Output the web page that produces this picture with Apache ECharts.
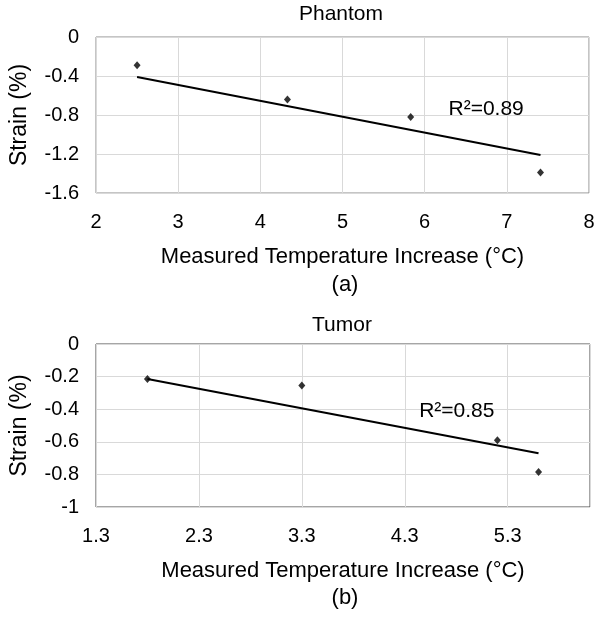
<!DOCTYPE html>
<html>
<head>
<meta charset="utf-8">
<script src="https://cdn.jsdelivr.net/npm/echarts@6/dist/echarts.min.js"></script>
<style>
html,body{margin:0;padding:0;background:#fff;}
#chart{width:601px;height:617px;}
</style>
</head>
<body>
<div id="chart"></div>
<script>
// Panel (a) Phantom
const phantomX = [2.5, 4.33, 5.83, 7.41];
const phantomY = [-0.29, -0.64, -0.82, -1.39];
const phantomFitX = [2.5, 7.41];
const phantomFitY = [-0.41, -1.21];
const phantomR2 = 'R²=0.89';
const phantomR2At = [6.29, -0.745];
const phantomXTicks = {min: 2, max: 8, interval: 1};
const phantomYTicks = {min: -1.6, max: 0, interval: 0.4};

// Panel (b) Tumor
const tumorX = [1.8, 3.3, 5.2, 5.6];
const tumorY = [-0.215, -0.255, -0.59, -0.785];
const tumorFitX = [1.8, 5.6];
const tumorFitY = [-0.215, -0.67];
const tumorR2 = 'R²=0.85';
const tumorR2At = [4.44, -0.415];
const tumorXTicks = {min: 1.3, max: 6.1, interval: 1};
const tumorYTicks = {min: -1, max: 0, interval: 0.2};

const titles = ['Phantom', 'Tumor'];
const captions = ['(a)', '(b)'];
const xName = 'Measured Temperature Increase (°C)';
const yName = 'Strain (%)';

const FONT = '"Liberation Sans", Arial, sans-serif';
const pairs = (xs, ys) => xs.map((x, i) => [x, ys[i]]);

function xAxisCfg(idx, t, dec) {
  return {
    type: 'value', gridIndex: idx, min: t.min, max: t.max, interval: t.interval,
    name: xName, nameLocation: 'middle', nameGap: 53,
    nameTextStyle: {fontFamily: FONT, fontSize: 22, color: '#000', verticalAlign: 'top'},
    axisLine: {show: false}, axisTick: {show: false},
    axisLabel: {margin: 19, fontFamily: FONT, fontSize: 20, color: '#000', showMaxLabel: dec ? false : true,
      formatter: v => dec ? Number(v).toFixed(1) : String(Math.round(v))},
    splitLine: {show: true, lineStyle: {color: '#d9d9d9', width: 1}}
  };
}
function yAxisCfg(idx, t) {
  return {
    type: 'value', gridIndex: idx, min: t.min, max: t.max, interval: t.interval,
    name: yName, nameLocation: 'middle', nameGap: 65, nameRotate: 90,
    nameTextStyle: {fontFamily: FONT, fontSize: 23, color: '#000'},
    axisLine: {show: false}, axisTick: {show: false},
    axisLabel: {margin: 17, fontFamily: FONT, fontSize: 20, color: '#000',
      formatter: v => String(Math.round(v * 10) / 10)},
    splitLine: {show: true, lineStyle: {color: '#d9d9d9', width: 1}}
  };
}
function scatterCfg(idx, xs, ys) {
  return {type: 'scatter', xAxisIndex: idx, yAxisIndex: idx, data: pairs(xs, ys),
    symbol: 'diamond', symbolSize: [7, 8], itemStyle: {color: '#000'}, z: 5};
}
function fitCfg(idx, xs, ys, txt, at) {
  return {type: 'line', xAxisIndex: idx, yAxisIndex: idx, data: pairs(xs, ys),
    showSymbol: false, symbol: 'none', lineStyle: {color: '#000', width: 2}, z: 4,
    markPoint: {symbol: 'circle', symbolSize: 0, silent: true,
      data: [{coord: at, label: {show: true, formatter: txt, position: 'right', distance: 0,
        fontFamily: FONT, fontSize: 21, color: '#000'}}]}};
}

const chart = echarts.init(document.getElementById('chart'), null, {renderer: 'canvas'});
chart.setOption({
  animation: false,
  backgroundColor: '#fff',
  grid: [
    {left: 93, top: 37, width: 496, height: 156, show: true, borderColor: '#8a8a8a', borderWidth: 1, containLabel: false},
    {left: 94, top: 344, width: 496, height: 163, show: true, borderColor: '#4d4d4d', borderWidth: 1, containLabel: false}
  ],
  xAxis: [xAxisCfg(0, phantomXTicks, false), xAxisCfg(1, tumorXTicks, true)],
  yAxis: [yAxisCfg(0, phantomYTicks), yAxisCfg(1, tumorYTicks)],
  series: [
    fitCfg(0, phantomFitX, phantomFitY, phantomR2, phantomR2At),
    scatterCfg(0, phantomX, phantomY),
    fitCfg(1, tumorFitX, tumorFitY, tumorR2, tumorR2At),
    scatterCfg(1, tumorX, tumorY)
  ],
  graphic: [
    {type: 'text', x: 341, y: 14, style: {text: titles[0], fontFamily: FONT, fontSize: 21, fill: '#000', textAlign: 'center', textVerticalAlign: 'middle'}},
    {type: 'text', x: 345, y: 285, style: {text: captions[0], fontFamily: FONT, fontSize: 22, fill: '#000', textAlign: 'center', textVerticalAlign: 'middle'}},
    {type: 'text', x: 342, y: 325, style: {text: titles[1], fontFamily: FONT, fontSize: 21, fill: '#000', textAlign: 'center', textVerticalAlign: 'middle'}},
    {type: 'text', x: 345, y: 598, style: {text: captions[1], fontFamily: FONT, fontSize: 22, fill: '#000', textAlign: 'center', textVerticalAlign: 'middle'}}
  ]
});
</script>
</body>
</html>
